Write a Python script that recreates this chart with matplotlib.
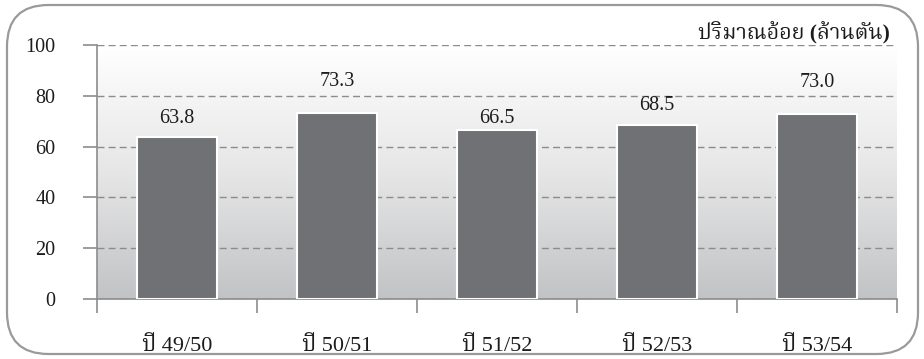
import numpy as np
import matplotlib
matplotlib.use("Agg")
import matplotlib.pyplot as plt
from matplotlib import font_manager
from matplotlib.patches import FancyBboxPatch
from matplotlib.colors import LinearSegmentedColormap

# Sugarcane output per crop year (million tonnes)
years = ["ปี 49/50", "ปี 50/51", "ปี 51/52", "ปี 52/53", "ปี 53/54"]
cane_output = [63.8, 73.3, 66.5, 68.5, 73.0]
y_ticks = [0, 20, 40, 60, 80, 100]
unit_title = "ปริมาณอ้อย (ล้านตัน)"


def find_thai_family():
    """Return the name of an installed family that has Thai glyphs, if any."""
    try:
        from fontTools.ttLib import TTFont
    except ImportError:
        return None
    found = []
    for path in font_manager.findSystemFonts():
        try:
            font = TTFont(path, fontNumber=0, lazy=True)
            cmap = font.getBestCmap() or {}
            if all(ord(c) in cmap for c in "ปริมาณอ้อยล้านตัน"):
                name = font_manager.FontProperties(fname=path).get_name()
                found.append(name)
        except Exception:
            continue
    if not found:
        return None
    for pref in ("Noto Serif Thai", "Noto Sans Thai", "Loma", "Garuda", "Norasi"):
        if pref in found:
            return pref
    return found[0]


thai = find_thai_family()
families = ["Liberation Serif"] + ([thai] if thai else []) + ["DejaVu Sans"]
plt.rcParams["font.family"] = families
TXT = "#1c1c1c"

fig = plt.figure(figsize=(9.24, 3.59), dpi=100)
fig.patch.set_facecolor("white")

# Rounded outer frame
frame = FancyBboxPatch((7 / 924, 5 / 359), 911 / 924, 349 / 359,
                       boxstyle="round,pad=0,rounding_size=0.045",
                       transform=fig.transFigure, facecolor="white",
                       edgecolor="#9a9a9a", linewidth=1.6,
                       mutation_aspect=924 / 359, zorder=-10)
fig.patches.append(frame)

ax = fig.add_axes([97 / 924, 60 / 359, 800 / 924, 254 / 359])
ax.set_facecolor("none")
ax.set_zorder(2)

x = np.arange(len(years))
ax.set_xlim(-0.5, len(years) - 0.5)
ax.set_ylim(0, 100)

# Vertical gradient behind the plot area
grad = np.linspace(0, 1, 256).reshape(-1, 1)
cmap = LinearSegmentedColormap.from_list("bg", ["#c2c3c5", "#e6e6e7", "#ffffff"])
ax.imshow(grad, extent=(-0.5, len(years) - 0.5, 0, 100), origin="lower",
          aspect="auto", cmap=cmap, zorder=0)

ax.yaxis.grid(True, linestyle=(0, (5, 3)), color="#8c8c8c", linewidth=1.0, zorder=1)
ax.set_axisbelow(True)

bars = ax.bar(x, cane_output, width=0.5, color="#707174", edgecolor="white",
              linewidth=1.5, zorder=3)

# Value labels, each nudged by hand above its bar (pixels to the baseline)
label_gaps = [14, 27, 7, 15, 27]
for xi, v, gap in zip(x, cane_output, label_gaps):
    ax.annotate(f"{v:.1f}", (xi, v), xytext=(0, gap), textcoords="offset pixels",
                ha="center", va="baseline", fontsize=14.5, color=TXT)

ax.set_yticks(y_ticks)
ax.set_yticklabels([str(t) for t in y_ticks], fontsize=14.5, color=TXT)

# Ticks on category boundaries, labels centred under bars
ax.set_xticks(np.arange(len(years) + 1) - 0.5)
ax.set_xticklabels([])
ax.set_xticks(x, minor=True)
ax.set_xticklabels(years, minor=True, fontsize=16, color=TXT)
ax.tick_params(axis="x", which="minor", length=0, pad=27)
ax.tick_params(axis="x", which="major", length=10, color="#8c8c8c", width=1.2)
ax.tick_params(axis="y", length=10, color="#8c8c8c", width=1.2, pad=20)

for side in ("top", "right"):
    ax.spines[side].set_visible(False)
for side in ("left", "bottom"):
    ax.spines[side].set_color("#8c8c8c")
    ax.spines[side].set_linewidth(1.2)

ax.text(1.0 - 7 / 800, 1.0 + 12 / 254, unit_title, transform=ax.transAxes,
        ha="right", va="center", fontsize=15.5, fontweight="bold", color=TXT)

fig.savefig("out.png", dpi=100, facecolor="white")
